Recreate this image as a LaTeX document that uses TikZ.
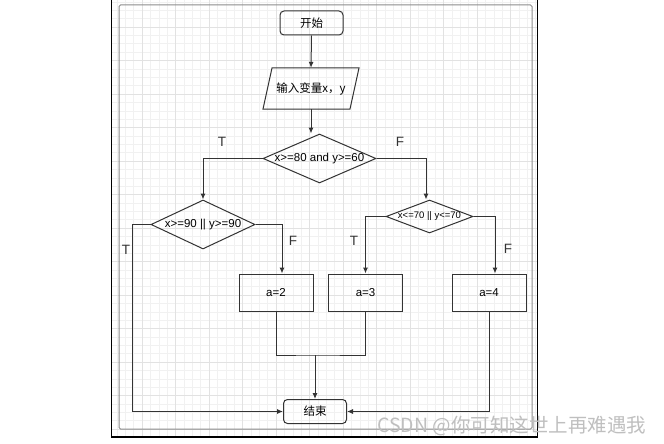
\documentclass[tikz,border=0pt]{standalone}
\usepackage{fontspec}
\setmainfont{Liberation Sans}
\newfontfamily\cjk{Noto Sans CJK SC}
\usetikzlibrary{shapes.geometric,arrows.meta}
\definecolor{ln}{HTML}{333333}
\definecolor{gmin}{HTML}{F1F1F1}
\definecolor{gmaj}{HTML}{E2E2E2}
\begin{document}
\begin{tikzpicture}[x=1pt,y=-1pt,
  line/.style={draw=ln,line width=1pt},
  arr/.style={line,-{Latex[length=6pt,width=5pt]}},
  term/.style={draw=ln,line width=1pt,rounded corners=4pt,minimum width=63pt,minimum height=24pt,inner sep=0pt,font=\cjk\fontsize{11.5}{12}\selectfont},
  proc/.style={draw=ln,line width=1pt,minimum width=74pt,minimum height=37pt,inner sep=0pt,font=\fontsize{11.5}{12}\selectfont},
  dia/.style={diamond,draw=ln,line width=1pt,inner sep=0pt},
  dtext/.style={font=\fontsize{11.5}{12}\selectfont,inner sep=0pt},
  lab/.style={font=\fontsize{13.5}{14}\selectfont,text=ln},
  minorg/.style={draw=gmin,line width=0.5pt},
  majorg/.style={draw=gmaj,line width=0.7pt}]
\useasboundingbox (0,0) rectangle (664,444);
\fill[white] (0,0) rectangle (664,444);
% grid
\begin{scope}
\clip (112,-2) rectangle (537,437);
\foreach \i in {0,...,56} \draw[minorg] (108.5+\i*8.375,-10) -- ++(0,460);
\foreach \i in {0,...,56} \draw[minorg] (100,-6.5+\i*8.375) -- ++(450,0);
\foreach \i in {0,...,14} \draw[majorg] (108.5+\i*33.5,-10) -- ++(0,460);
\foreach \i in {0,...,14} \draw[majorg] (100,-6.5+\i*33.5) -- ++(450,0);
\end{scope}
\draw[black,line width=1.2pt] (111.5,-3) rectangle (537.5,437);
\draw[gray!90,line width=1pt,rounded corners=1.5pt] (119,5) rectangle (532,429);
% nodes
\node[term] (start) at (311.5,23) {开始};
\node[minimum width=87pt,minimum height=41pt,inner sep=0pt,font=\cjk\fontsize{11.5}{12}\selectfont] (para) at (311,88.5) {输入变量x，y};
\draw[draw=ln,line width=1pt] (263,109) -- (272,68) -- (359,68) -- (350,109) -- cycle;
\node[dia,minimum width=113pt,minimum height=49pt] (d1) at (319.5,158.5) {};
\node[dtext] at (d1) {x>=80 and y>=60};
\node[dia,minimum width=104pt,minimum height=49pt] (d2) at (203,224.5) {};
\node[dtext] at (d2) {x>=90 || y>=90};
\node[dia,minimum width=87pt,minimum height=33pt] (d3) at (429.5,216.5) {};
\node[dtext,font=\fontsize{9.5}{10}\selectfont] at (d3) {x<=70 || y<=70};
\node[proc] (a2) at (276,292.5) {a=2};
\node[proc] (a3) at (365.5,292.5) {a=3};
\node[proc] (a4) at (489,292.5) {a=4};
\node[term] (end) at (315,411.5) {结束};
\coordinate (j) at (315,355);
% connectors
\draw[arr] (start.south) -- (para.north);
\draw[arr] (para.south) -- (para.south |- d1.north);
\draw[arr] (d1.west) -| (d2.north);
\draw[arr] (d1.east) -| ([xshift=-3.5pt]d3.north);
\draw[arr] (d2.west) -- ++(-18,0) |- (end.west);
\draw[arr] (d2.east) -| ([xshift=6pt]a2.north);
\draw[arr] (d3.west) -| (a3.north);
\draw[arr] (d3.east) -| ([xshift=6pt]a4.north);
\draw[line] (a2.south) |- (j) -| (a3.south);
\draw[arr] (j) -- (end.north);
\draw[arr] (a4.south) |- (end.east);
% labels
\node[lab] at (222,142) {T};
\node[lab] at (400,142) {F};
\node[lab] at (126,250) {T};
\node[lab] at (293,241) {F};
\node[lab] at (354,241) {T};
\node[lab] at (508,249) {F};
\node[anchor=west,inner sep=0pt,text=gray!50,font=\cjk\fontsize{19.5}{20}\selectfont] at (377,425.5) {CSDN @你可知这世上再难遇我};
\end{tikzpicture}
\end{document}
